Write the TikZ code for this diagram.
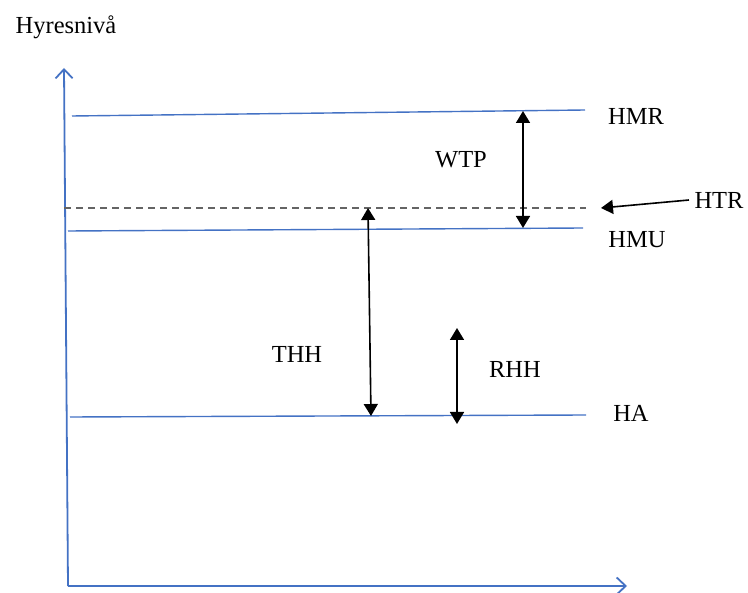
\documentclass[tikz,border=0pt]{standalone}
\usepackage{fontspec}
\setmainfont{Liberation Serif}
\usepackage{xcolor}
\usepackage{tikz}
\usetikzlibrary{arrows.meta}

\definecolor{levelblue}{RGB}{68,114,196}
\definecolor{refgray}{RGB}{100,100,100}

\begin{document}
\begin{tikzpicture}[x=1pt, y=-1pt,
  every node/.style={font=\fontsize{24.5}{28}\selectfont},
  axis/.style={levelblue, line width=1.8pt, -{Straight Barb[length=9pt, width=17pt, line width=1.8pt]}},
  level/.style={levelblue, line width=1.4pt},
  span/.style={black, line width=1.6pt, {Triangle[length=12pt, width=14pt]}-{Triangle[length=12pt, width=14pt]}},
  pointer/.style={black, line width=1.6pt, -{Triangle[length=12pt, width=14pt]}}]
  \useasboundingbox (0,0) rectangle (748,593);

  % axes
  \coordinate (o)  at (68,586);
  \coordinate (yt) at (64,68);
  \coordinate (xt) at (627,586);
  \draw[axis] (o) -- (yt);
  \draw[axis] (o) -- (xt);
  \node (ylab) at (66,27) {Hyresnivå};

  % levels
  \coordinate (hmr0) at (72,116);  \coordinate (hmr1) at (585,110);
  \coordinate (hmu0) at (68,231);  \coordinate (hmu1) at (583,228);
  \coordinate (ha0)  at (70,417);  \coordinate (ha1)  at (586,415);
  \coordinate (htr0) at (64,208);  \coordinate (htr1) at (586,208);
  \draw[level] (hmr0) -- (hmr1);
  \draw[level] (hmu0) -- (hmu1);
  \draw[level] (ha0) -- (ha1);
  \draw[refgray, line width=1.4pt, dash pattern=on 7pt off 5pt] (htr0) -- (htr1);

  \node (hmr) at (636,116) {HMR};
  \node (hmu) at (637,240) {HMU};
  \node (ha)  at (631,413) {HA};
  \node (htr) at (719,200) {HTR};

  % spans
  \coordinate (wtpT) at (523,111);  \coordinate (wtpB) at (523,228);
  \coordinate (thhT) at (368,208);  \coordinate (thhB) at (371,416);
  \coordinate (rhhT) at (457,328);  \coordinate (rhhB) at (457,424);
  \draw[span] (wtpT) -- (wtpB);
  \draw[span] (thhT) -- (thhB);
  \draw[span] (rhhT) -- (rhhB);
  \node (wtp) at (461,160) {WTP};
  \node (thh) at (297,354) {THH};
  \node (rhh) at (515,369) {RHH};

  \coordinate (htrT) at (601,208);
  \draw[pointer] (htr.west) ++(-2,0) -- (htrT);
\end{tikzpicture}
\end{document}
